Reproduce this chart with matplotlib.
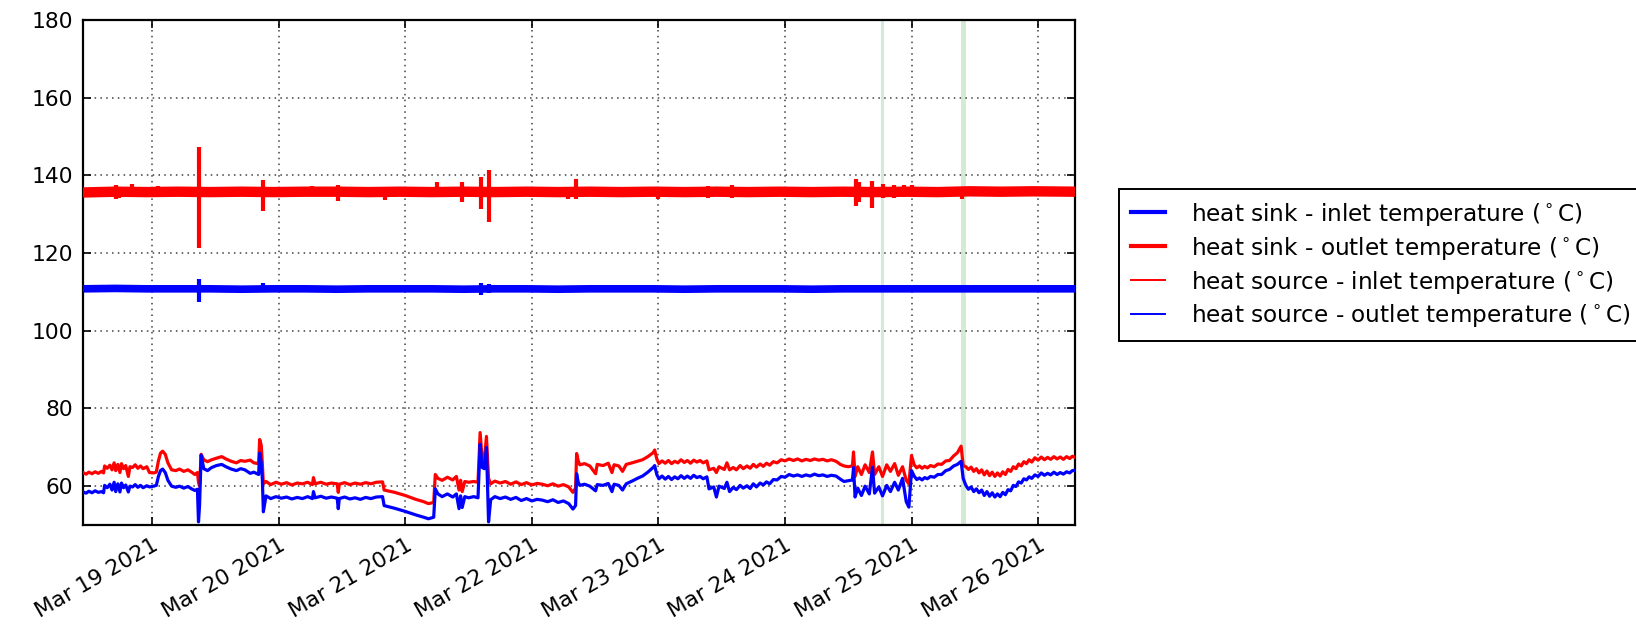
import numpy as np
import pandas as pd
import matplotlib
matplotlib.use("Agg")
import matplotlib.pyplot as plt
import matplotlib.dates as mdates
from matplotlib.lines import Line2D

# horas contadas a partir de 19/03/2021 00:00
T0 = pd.Timestamp("2021-03-19 00:00")
X_MIN, X_MAX = -13.1, 175.0

# heat sink - linha base (faixa grossa) e picos
sink_out_h = [-13.1, -7, -1, 5, 11, 17, 23, 29, 35, 41, 47, 53, 59, 65, 71, 77, 83,
              89, 95, 101, 107, 113, 119, 125, 131, 137, 143, 149, 155, 161, 167, 175]
sink_out_v = [135.6, 135.8, 135.7, 135.8, 135.7, 135.8, 135.7, 135.8, 135.8, 135.7, 135.8,
              135.7, 135.8, 135.7, 135.8, 135.7, 135.8, 135.7, 135.8, 135.7, 135.8, 135.7,
              135.8, 135.7, 135.8, 135.7, 135.8, 135.7, 135.9, 135.8, 135.9, 135.8]
sink_out_spk_h = [-6.8, -6.2, -3.8, 1.1, 8.9, 21.0, 30.3, 35.3, 44.2, 54.1, 58.8, 62.4, 63.9,
                  78.8, 80.4, 95.9, 105.4, 109.9, 114.7, 133.4, 134.0, 136.6, 138.6, 140.6,
                  142.6, 144.1, 153.6]
sink_out_spk_lo = [134.0, 134.2, 135.0, 135.0, 121.3, 130.9, 135.0, 133.4, 133.6, 135.0, 133.2,
                   131.4, 128.1, 133.8, 134.0, 134.0, 134.3, 134.2, 135.0, 132.0, 133.2, 131.7,
                   134.2, 134.2, 134.4, 135.0, 134.0]
sink_out_spk_hi = [137.4, 137.0, 137.8, 137.2, 147.4, 138.9, 137.3, 137.5, 136.0, 138.4, 138.2,
                   139.5, 141.3, 136.5, 139.0, 136.5, 137.2, 137.5, 137.0, 139.0, 138.3, 138.6,
                   137.8, 137.6, 137.6, 137.5, 137.0]

sink_in_h = sink_out_h
sink_in_v = [110.8, 110.9, 110.8, 110.8, 110.8, 110.7, 110.8, 110.8, 110.7, 110.8, 110.8,
             110.8, 110.7, 110.8, 110.8, 110.7, 110.8, 110.8, 110.8, 110.7, 110.8, 110.8,
             110.8, 110.7, 110.8, 110.8, 110.8, 110.8, 110.8, 110.8, 110.8, 110.8]
sink_in_spk_h = [8.9, 21.0, 62.4, 63.9, 133.5, 136.6]
sink_in_spk_lo = [107.3, 110.2, 109.3, 109.6, 110.0, 110.1]
sink_in_spk_hi = [113.2, 112.3, 112.3, 112.0, 111.8, 111.7]

# heat source - tempos das leituras
src_h = [-13.1, -12.5, -12.0, -11.4, -10.8, -10.2, -9.6, -9.2, -9.0, -8.5,
         -8.0, -7.6, -7.2, -6.9, -6.5, -6.1, -5.8, -5.4, -5.0, -4.5,
         -4.2, -3.7, -3.2, -2.7, -2.2, -1.7, -1.0, -0.5, 0.3, 0.8,
         1.2, 1.6, 2.0, 2.5, 3.0, 3.7, 4.5, 5.2, 6.0, 6.8,
         7.5, 8.1, 8.6, 8.8, 9.0, 9.3, 9.8, 10.5, 11.3, 12.2,
         13.2, 14.0, 15.0, 16.0, 16.8, 17.6, 18.6, 19.3, 20.2, 20.4,
         20.7, 20.9, 21.1, 21.6, 22.5, 23.5, 24.5, 25.5, 26.5, 27.5,
         28.5, 29.5, 30.4, 30.6, 30.9, 32.0, 33.0, 34.0, 35.1, 35.3,
         35.5, 36.5, 37.5, 38.5, 39.5, 40.5, 41.5, 42.5, 43.7, 44.0,
         46.0, 48.0, 50.0, 51.5, 52.4, 53.4, 53.7, 54.2, 55.0, 56.0,
         57.0, 57.7, 58.2, 58.5, 58.8, 59.3, 60.0, 61.0, 61.8, 62.2,
         62.6, 63.0, 63.4, 63.8, 64.2, 65.0, 66.0, 67.0, 68.0, 69.0,
         70.0, 71.0, 72.0, 73.0, 74.0, 75.0, 76.0, 77.0, 78.0, 79.0,
         79.8, 80.3, 80.5, 80.8, 81.1, 82.0, 83.0, 84.1, 84.4, 85.5,
         86.5, 87.2, 87.6, 88.5, 89.2, 89.9, 91.0, 92.0, 93.0, 94.0,
         95.0, 95.3, 95.7, 96.1, 96.7, 97.3, 97.9, 98.5, 99.1, 99.7,
         100.3, 100.9, 101.5, 102.1, 102.7, 103.3, 103.9, 104.5, 105.2, 105.6,
         106.5, 107.0, 107.5, 108.5, 109.0, 109.5, 110.2, 110.8, 111.5, 112.1,
         112.8, 113.4, 114.0, 114.6, 115.3, 115.9, 116.5, 117.1, 117.8, 118.5,
         119.3, 120.0, 120.8, 121.6, 122.4, 123.2, 124.0, 124.8, 125.6, 126.4,
         127.2, 128.0, 128.8, 129.7, 130.5, 131.2, 132.0, 132.8, 133.0, 133.3,
         133.8, 134.5, 135.2, 136.0, 136.6, 137.0, 137.8, 138.5, 139.3, 140.0,
         140.8, 141.5, 142.3, 143.0, 143.5, 144.0, 144.5, 145.0, 145.5, 146.0,
         146.5, 147.0, 147.6, 148.3, 149.0, 149.7, 150.5, 151.2, 152.0, 152.7,
         153.4, 153.8, 154.3, 154.8, 155.3, 155.8, 156.3, 156.8, 157.3, 157.8,
         158.3, 158.8, 159.3, 159.8, 160.3, 160.8, 161.3, 161.8, 162.3, 162.8,
         163.3, 163.8, 164.3, 164.8, 165.3, 165.8, 166.3, 166.8, 167.4, 168.0,
         168.6, 169.2, 169.8, 170.4, 171.0, 171.6, 172.2, 172.8, 173.4, 174.0,
         174.5, 175.0]

# heat source - inlet (vermelho fino)
src_in_v = [63.5, 63.1, 63.6, 63.2, 63.7, 63.3, 63.8, 63.4, 65.2, 64.6,
            65.4, 64.2, 66.0, 64.0, 65.6, 63.5, 65.8, 64.5, 65.3, 62.5,
            65.0, 64.8, 65.5, 64.6, 65.2, 64.5, 65.0, 63.5, 63.4, 63.6,
            66.5, 68.5, 69.0, 68.2, 66.0, 64.2, 64.0, 64.4, 63.8, 64.2,
            63.6, 63.0, 63.5, 61.0, 60.0, 68.2, 66.8, 66.3, 66.8, 67.2,
            67.6, 67.0, 66.4, 66.0, 66.6, 66.4, 66.7, 66.0, 65.8, 72.0,
            70.5, 66.0, 60.6, 61.2, 60.4, 61.0, 60.5, 60.9, 60.3, 60.8,
            60.6, 61.0, 60.4, 62.2, 60.6, 61.0, 60.5, 60.8, 60.6, 58.4,
            60.5, 60.9, 60.4, 60.8, 60.5, 60.9, 60.6, 61.0, 61.1, 59.0,
            58.4, 57.6, 56.6, 56.0, 55.5, 55.8, 63.0, 62.0, 61.5, 62.3,
            61.6, 62.5, 59.0, 61.5, 58.6, 61.2, 61.0, 61.2, 61.0, 73.8,
            67.0, 66.5, 72.8, 62.0, 60.6, 61.3, 60.8, 61.2, 60.5, 61.1,
            60.4, 60.9, 60.3, 60.7, 60.5, 60.1, 60.6, 60.0, 60.4, 59.8,
            58.4, 59.5, 68.4, 66.5, 65.5, 65.8, 65.2, 63.2, 65.6, 65.3,
            65.9, 63.5, 65.5, 65.2, 63.8, 65.6, 66.0, 66.4, 66.8, 67.6,
            68.6, 69.3, 67.0, 65.8, 66.5, 65.9, 66.6, 65.8, 66.4, 66.0,
            66.8, 66.1, 66.6, 65.9, 66.7, 66.2, 66.6, 66.0, 66.5, 64.2,
            64.6, 63.5, 65.0, 64.3, 66.0, 64.2, 64.8, 64.2, 65.3, 64.5,
            65.2, 64.6, 65.6, 64.9, 65.7, 65.1, 65.9, 65.4, 66.3, 66.0,
            66.8, 66.5, 67.0, 66.6, 67.0, 66.5, 66.9, 66.6, 67.0, 66.7,
            66.9, 66.5, 66.8, 66.4, 65.6, 65.2, 65.0, 65.2, 68.8, 62.5,
            65.0, 63.0, 65.5, 63.5, 68.8, 63.0, 65.0, 62.5, 65.5, 63.8,
            65.8, 62.8, 65.0, 61.5, 60.6, 67.9, 65.5, 64.7, 65.2, 64.6,
            65.1, 64.7, 65.3, 65.0, 65.7, 65.6, 66.5, 66.6, 67.8, 68.6,
            70.3, 65.3, 65.0, 64.3, 64.9, 63.8, 64.5, 63.4, 64.2, 62.9,
            63.9, 62.7, 63.6, 62.5, 63.4, 62.6, 63.7, 63.0, 64.3, 63.8,
            65.0, 64.5, 65.7, 65.2, 66.3, 65.8, 66.8, 66.2, 67.3, 66.7,
            67.5, 66.8, 67.4, 66.9, 67.6, 67.0, 67.5, 66.9, 67.6, 67.1,
            67.7, 67.4]

# heat source - outlet (azul fino)
src_out_v = [58.5, 58.2, 58.7, 58.3, 58.8, 58.4, 58.6, 58.3, 60.2, 59.6,
             60.5, 59.0, 61.0, 58.6, 60.6, 58.5, 60.8, 59.6, 60.3, 58.5,
             60.0, 59.8, 60.4, 59.7, 60.2, 59.6, 60.1, 59.8, 60.0, 60.2,
             62.5, 64.0, 64.4, 63.5, 61.5, 60.0, 59.7, 60.0, 59.5, 59.9,
             59.3, 58.9, 59.2, 50.8, 55.0, 68.0, 64.5, 64.0, 64.8, 65.3,
             65.6, 65.0, 64.4, 64.0, 64.5, 64.2, 63.3, 63.6, 63.0, 68.5,
             66.0, 62.0, 53.4, 57.5, 56.8, 57.3, 56.9, 57.2, 56.7, 57.1,
             56.8, 57.3, 56.8, 58.6, 57.0, 57.4, 56.9, 57.2, 56.9, 54.2,
             56.8, 57.2, 56.7, 57.0, 56.6, 57.1, 56.8, 57.2, 57.3, 55.0,
             54.3, 53.5, 52.6, 52.0, 51.6, 52.0, 59.3, 58.0, 57.3, 58.0,
             57.2, 58.0, 54.2, 57.5, 54.5, 57.3, 57.0, 57.3, 57.0, 70.8,
             64.8, 64.5, 70.0, 50.8, 56.5, 57.3, 56.8, 57.2, 56.6, 57.1,
             56.3, 56.8, 56.2, 56.6, 56.4, 56.0, 56.5, 55.8, 56.2, 55.5,
             54.1, 55.0, 63.2, 61.0, 60.2, 60.5, 60.0, 58.8, 60.4, 60.2,
             60.7, 58.6, 60.5, 60.2, 59.0, 60.6, 61.3, 62.0, 62.6, 63.6,
             64.8, 65.3, 63.0, 61.9, 62.6, 61.8, 62.5, 61.7, 62.4, 61.9,
             62.7, 62.0, 62.6, 62.0, 62.8, 62.2, 62.5, 61.9, 62.4, 59.3,
             59.8, 57.2, 60.0, 59.4, 61.0, 58.6, 59.7, 59.1, 60.2, 59.5,
             60.1, 59.4, 60.6, 59.8, 60.8, 60.3, 61.1, 60.6, 61.7, 61.6,
             62.5, 62.3, 63.0, 62.6, 62.9, 62.5, 62.9, 62.6, 63.1, 62.7,
             62.9, 62.5, 62.8, 62.6, 61.8, 61.2, 61.4, 61.6, 64.8, 57.2,
             59.5, 57.6, 60.0, 58.0, 64.9, 58.2, 59.8, 57.5, 60.2, 58.6,
             61.0, 59.0, 62.0, 56.0, 54.6, 64.0, 62.6, 61.7, 62.1, 61.6,
             62.2, 61.9, 62.5, 62.3, 63.0, 63.0, 64.0, 64.3, 65.2, 65.6,
             66.4, 62.0, 60.2, 59.2, 59.8, 58.6, 59.3, 58.3, 59.0, 57.6,
             58.6, 57.4, 58.3, 57.2, 58.0, 57.3, 58.4, 57.8, 59.1, 58.8,
             60.2, 59.9, 61.1, 60.8, 61.9, 61.6, 62.4, 62.0, 62.9, 62.5,
             63.4, 62.8, 63.3, 62.9, 63.6, 63.0, 63.5, 63.1, 63.7, 63.4,
             64.0, 64.1]

# faixas verdes (inicio, fim) em horas
band_start = [138.2, 153.4]
band_end = [138.85, 154.3]

labels = [r"heat sink - inlet temperature ($^\circ$C)",
          r"heat sink - outlet temperature ($^\circ$C)",
          r"heat source - inlet temperature ($^\circ$C)",
          r"heat source - outlet temperature ($^\circ$C)"]


def to_time(hours):
    return T0 + pd.to_timedelta(np.asarray(hours, dtype=float), unit="h")


fig = plt.figure(figsize=(16.36, 6.30), dpi=100)
ax = fig.add_axes([83 / 1636, 1 - 525 / 630, (1075 - 83) / 1636, (525 - 20) / 630])

for s, e in zip(band_start, band_end):
    ax.axvspan(to_time([s])[0], to_time([e])[0], color="#d3ead3", lw=0, zorder=1)

ax.plot(to_time(sink_out_h), sink_out_v, color="r", lw=7.5, solid_capstyle="butt", zorder=3)
ax.vlines(to_time(sink_out_spk_h), sink_out_spk_lo, sink_out_spk_hi, color="r", lw=3, zorder=3)
ax.plot(to_time(sink_in_h), sink_in_v, color="b", lw=5.5, solid_capstyle="butt", zorder=3)
ax.vlines(to_time(sink_in_spk_h), sink_in_spk_lo, sink_in_spk_hi, color="b", lw=3, zorder=3)
ax.plot(to_time(src_h), src_in_v, color="r", lw=2.3, zorder=3)
ax.plot(to_time(src_h), src_out_v, color="b", lw=2.3, zorder=4)

ax.set_xlim(to_time([X_MIN])[0], to_time([X_MAX])[0])
ax.set_ylim(50, 180)
ax.set_yticks([60, 80, 100, 120, 140, 160, 180])
ax.xaxis.set_major_locator(mdates.DayLocator())
ax.xaxis.set_major_formatter(mdates.DateFormatter("%b %d %Y"))

ax.grid(True, color="0.25", linestyle=(0, (1, 2.8)), lw=1.1, zorder=0)
ax.tick_params(direction="in", top=True, right=True, length=6, width=1.2, labelsize=15.7)
ax.tick_params(axis="y", pad=7)
ax.tick_params(axis="x", pad=7)
plt.setp(ax.get_xticklabels(), rotation=30, ha="right", rotation_mode="anchor")
for sp in ax.spines.values():
    sp.set_linewidth(1.6)

handles = [Line2D([], [], color="b", lw=3),
           Line2D([], [], color="r", lw=3),
           Line2D([], [], color="r", lw=1.4),
           Line2D([], [], color="b", lw=1.4)]
leg = fig.legend(handles, labels, loc="upper left", bbox_to_anchor=(1119 / 1636, 1 - 189 / 630),
                 borderaxespad=0, fontsize=16.7, frameon=True, fancybox=False, framealpha=1,
                 edgecolor="k", handlelength=1.5, handletextpad=1.1, labelspacing=0.3,
                 borderpad=0.5)
leg.get_frame().set_linewidth(1.4)

fig.savefig("out.png", dpi=100)
